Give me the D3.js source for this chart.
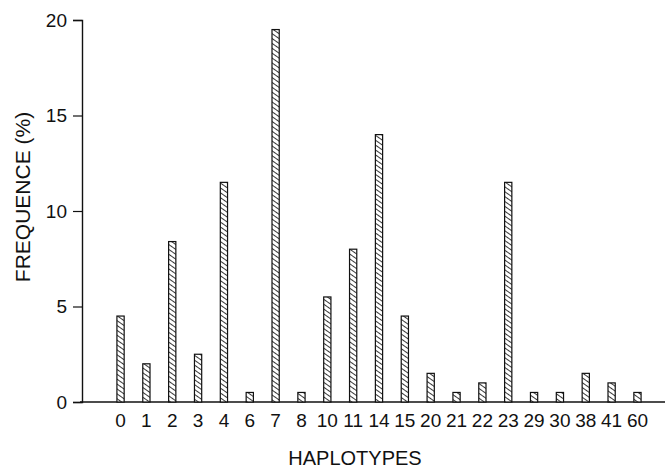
<!DOCTYPE html>
<html>
<head>
<meta charset="utf-8">
<script src="https://cdn.jsdelivr.net/npm/d3@7"></script>
<style>
  body { margin: 0; background: #fff; }
  text { font-family: "Liberation Sans Narrow", "Liberation Sans", Arial, sans-serif; fill: #111; }
</style>
</head>
<body>
<svg id="chart" width="667" height="468"></svg>
<script>
const haplotypes = ["0","1","2","3","4","6","7","8","10","11","14","15","20","21","22","23","29","30","38","41","60"];
const frequence = [4.5, 2, 8.4, 2.5, 11.5, 0.5, 19.5, 0.5, 5.5, 8, 14, 4.5, 1.5, 0.5, 1, 11.5, 0.5, 0.5, 1.5, 1, 0.5];
const yTicks = [0, 5, 10, 15, 20];

const svg = d3.select('svg#chart');

// hatch fill like the scanned figure
const defs = svg.append('defs');
const pat = defs.append('pattern')
  .attr('id', 'hatch')
  .attr('patternUnits', 'userSpaceOnUse')
  .attr('width', 4).attr('height', 4)
  .attr('patternTransform', 'rotate(-55)');
pat.append('rect').attr('width', 4).attr('height', 4).attr('fill', '#fff');
pat.append('line').attr('x1', 0).attr('y1', 0).attr('x2', 0).attr('y2', 4)
  .attr('stroke', '#222').attr('stroke-width', 1.8);

const xScale = d3.scaleBand()
  .domain(haplotypes)
  .range([104, 654])
  .paddingInner(0.72)
  .paddingOuter(0.5);

const yScale = d3.scaleLinear()
  .domain([0, 20])
  .range([402, 20]);

const yAxis = d3.axisLeft(yScale)
  .tickValues(yTicks)
  .tickSize(9)
  .tickPadding(6);

const yAxisG = svg.append('g')
  .attr('transform', 'translate(82,0)')
  .call(yAxis);
yAxisG.select('.domain').attr('stroke', '#111').attr('stroke-width', 1.4);
yAxisG.selectAll('.tick line').attr('stroke', '#111').attr('stroke-width', 1.2);
yAxisG.selectAll('.tick text').style('font-size', '19px');

// baseline
svg.append('line')
  .attr('x1', 80).attr('x2', 665)
  .attr('y1', yScale(0)).attr('y2', yScale(0))
  .attr('stroke', '#111').attr('stroke-width', 1.4);

svg.append('g')
  .selectAll('rect')
  .data(frequence)
  .enter()
  .append('rect')
  .attr('x', (d, i) => xScale(haplotypes[i]))
  .attr('y', d => yScale(d))
  .attr('width', xScale.bandwidth())
  .attr('height', d => yScale(0) - yScale(d))
  .attr('fill', 'url(#hatch)')
  .attr('stroke', '#111')
  .attr('stroke-width', 1.2);

svg.append('g')
  .selectAll('text')
  .data(haplotypes)
  .enter()
  .append('text')
  .attr('x', d => xScale(d) + xScale.bandwidth() / 2)
  .attr('y', 427)
  .attr('text-anchor', 'middle')
  .style('font-size', '19px')
  .text(d => d);

svg.append('text')
  .attr('x', 355)
  .attr('y', 465)
  .attr('text-anchor', 'middle')
  .style('font-size', '20px')
  .style('font-family', '"Liberation Sans", Arial, sans-serif')
  .text('HAPLOTYPES');

svg.append('text')
  .attr('transform', 'rotate(-90)')
  .attr('x', -197)
  .attr('y', 30)
  .attr('text-anchor', 'middle')
  .style('font-size', '21px')
  .style('font-family', '"Liberation Sans", Arial, sans-serif')
  .text('FREQUENCE (%)');
</script>
</body>
</html>
